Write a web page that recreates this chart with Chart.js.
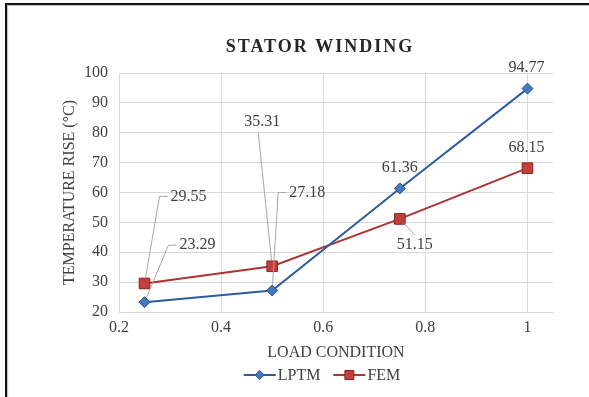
<!DOCTYPE html>
<html>
<head>
<meta charset="utf-8">
<script src="https://cdn.jsdelivr.net/npm/chart.js@4/dist/chart.umd.min.js"></script>
<style>
  html, body { margin: 0; padding: 0; background: #fff; }
  #wrap { position: relative; width: 589px; height: 397px; overflow: hidden; }
  #wrap canvas { position: absolute; left: 0; top: 0; }
  #frame {
    position: absolute; left: 5px; top: 3px; right: -10px; bottom: -10px;
    border-top: 2px solid #111; border-left: 2px solid #111;
    box-shadow: inset 1px 1px 1px rgba(0,0,0,0.25);
    pointer-events: none;
  }
</style>
</head>
<body>
<div id="wrap">
  <canvas id="chart" width="589" height="397"></canvas>
  <div id="frame"></div>
</div>
<script>
// Load condition (per unit) and the temperature rise of the stator winding
const loadCondition = [0.25, 0.5, 0.75, 1];
const lptmRise = [23.29, 27.18, 61.36, 94.77];
const femRise = [29.55, 35.31, 51.15, 68.15];

const seriesNames = ['LPTM', 'FEM'];
const chartTitle = 'STATOR WINDING';
const xAxisTitle = 'LOAD CONDITION';
const yAxisTitle = 'TEMPERATURE RISE (°C)';
const xTickValues = [0.2, 0.4, 0.6, 0.8, 1];
const yTickValues = [20, 30, 40, 50, 60, 70, 80, 90, 100];

// Where each value label sits relative to its point (px), and how its leader line attaches
const lptmLabelPlacement = [
  { dx: 53, dy: -57, leader: 'left' },
  { dx: 35, dy: -98, leader: 'left' },
  { dx: 0, dy: -21 },
  { dx: -1, dy: -21 }
];
const femLabelPlacement = [
  { dx: 44, dy: -87, leader: 'left' },
  { dx: -10, dy: -144, leader: 'bottom' },
  { dx: 15, dy: 26, leader: 'top' },
  { dx: -1, dy: -20 }
];

const SERIF = '"Liberation Serif", "Times New Roman", serif';
const BLUE = { line: '#2F5C9E', fill: '#4479BD', border: '#294F88' };
const RED = { line: '#AA3532', fill: '#C2403B', border: '#8A2323' };

const toPoints = (ys) => loadCondition.map((x, i) => ({ x: x, y: ys[i] }));

// Value labels with Excel-style leader lines
const valueLabels = {
  id: 'valueLabels',
  afterDatasetsDraw(chart) {
    const ctx = chart.ctx;
    const placements = [lptmLabelPlacement, femLabelPlacement];
    ctx.save();
    ctx.font = '16px ' + SERIF;
    ctx.textAlign = 'center';
    ctx.textBaseline = 'middle';
    chart.data.datasets.forEach((ds, di) => {
      const meta = chart.getDatasetMeta(di);
      meta.data.forEach((pt, i) => {
        const p = placements[di][i];
        const text = ds.data[i].y.toFixed(2);
        const cx = pt.x + p.dx, cy = pt.y + p.dy;
        const w = ctx.measureText(text).width;
        if (p.leader) {
          ctx.strokeStyle = '#A6A6A6';
          ctx.lineWidth = 1;
          ctx.beginPath();
          let sx, sy;
          if (p.leader === 'left') {
            sx = cx - w / 2 - 3; sy = cy;
            ctx.moveTo(sx, sy);
            sx -= 8;
            ctx.lineTo(sx, sy);
          } else if (p.leader === 'bottom') {
            sx = cx - 4; sy = cy + 10;
            ctx.moveTo(sx, sy);
          } else {
            sx = cx; sy = cy - 10;
            ctx.moveTo(sx, sy);
          }
          const vx = pt.x - sx, vy = pt.y - sy;
          const len = Math.hypot(vx, vy);
          const stop = 6;
          ctx.lineTo(pt.x - vx / len * stop, pt.y - vy / len * stop);
          ctx.stroke();
        }
        ctx.fillStyle = '#404040';
        ctx.fillText(text, cx, cy);
      });
    });
    ctx.restore();
  }
};

// Chart heading and the legend row underneath the axis title
const headingAndLegend = {
  id: 'headingAndLegend',
  afterDraw(chart) {
    const ctx = chart.ctx;
    ctx.save();
    ctx.fillStyle = '#262626';
    ctx.font = 'bold 18px ' + SERIF;
    ctx.letterSpacing = '2px';
    ctx.textAlign = 'center';
    ctx.textBaseline = 'middle';
    ctx.fillText(chartTitle, 320, 47);
    ctx.letterSpacing = '0px';

    ctx.font = '16px ' + SERIF;
    ctx.textAlign = 'left';
    const lineLen = 32, gapText = 2, gapItem = 13;
    const widths = chart.data.datasets.map(ds => ctx.measureText(ds.label).width);
    const total = widths.reduce((a, w) => a + lineLen + gapText + w, 0) + gapItem * (widths.length - 1);
    let x = 322 - total / 2;
    const y = 375;
    chart.data.datasets.forEach((ds, i) => {
      ctx.strokeStyle = ds.borderColor;
      ctx.lineWidth = 2;
      ctx.beginPath();
      ctx.moveTo(x, y);
      ctx.lineTo(x + lineLen, y);
      ctx.stroke();
      ctx.fillStyle = ds.pointBackgroundColor;
      ctx.strokeStyle = ds.pointBorderColor;
      ctx.lineWidth = ds.pointBorderWidth;
      ctx.beginPath();
      const mx = x + lineLen / 2;
      if (ds.pointStyle === 'rect') {
        const s = 4.5;
        ctx.rect(mx - s, y - s, 2 * s, 2 * s);
      } else {
        const r = 4.5;
        ctx.moveTo(mx - r, y); ctx.lineTo(mx, y - r); ctx.lineTo(mx + r, y); ctx.lineTo(mx, y + r); ctx.closePath();
      }
      ctx.fill();
      ctx.stroke();
      ctx.fillStyle = '#404040';
      ctx.textBaseline = 'middle';
      ctx.fillText(ds.label, x + lineLen + gapText, y + 1);
      x += lineLen + gapText + widths[i] + gapItem;
    });
    ctx.restore();
  }
};

const tickFont = { family: SERIF, size: 16 };
const titleFont = { family: SERIF, size: 16 };

new Chart(document.getElementById('chart'), {
  type: 'line',
  data: {
    datasets: [
      {
        label: seriesNames[0],
        data: toPoints(lptmRise),
        borderColor: BLUE.line,
        borderWidth: 2,
        pointStyle: 'rectRot',
        pointRadius: 5.5,
        pointBackgroundColor: BLUE.fill,
        pointBorderColor: BLUE.border,
        pointBorderWidth: 1,
        tension: 0
      },
      {
        label: seriesNames[1],
        data: toPoints(femRise),
        borderColor: RED.line,
        borderWidth: 2,
        pointStyle: 'rect',
        pointRadius: 7.5,
        pointBackgroundColor: RED.fill,
        pointBorderColor: RED.border,
        pointBorderWidth: 1,
        tension: 0
      }
    ]
  },
  options: {
    responsive: false,
    animation: false,
    events: [],
    layout: { padding: { top: 73, right: 36, bottom: 25, left: 0 } },
    plugins: {
      legend: { display: false },
      title: { display: false },
      tooltip: { enabled: false }
    },
    scales: {
      x: {
        type: 'linear',
        min: 0.2,
        max: 1.05,
        afterBuildTicks(scale) { scale.ticks = xTickValues.map(v => ({ value: v })); },
        afterFit(scale) { scale.height = 60; },
        ticks: {
          font: tickFont,
          color: '#404040',
          padding: 6,
          callback: (v) => String(v)
        },
        grid: { color: '#D9D9D9', lineWidth: 1, drawTicks: false },
        border: { display: true, color: '#D9D9D9' },
        title: {
          display: true,
          text: xAxisTitle,
          font: titleFont,
          color: '#404040',
          padding: { top: 0, bottom: 10 }
        }
      },
      y: {
        min: 20,
        max: 100,
        afterBuildTicks(scale) { scale.ticks = yTickValues.map(v => ({ value: v })); },
        afterFit(scale) { scale.width = 119; },
        ticks: {
          font: tickFont,
          color: '#404040',
          padding: 11
        },
        grid: { color: '#D9D9D9', lineWidth: 1, drawTicks: false },
        border: { display: true, color: '#D9D9D9' },
        title: {
          display: true,
          text: yAxisTitle,
          font: titleFont,
          color: '#404040',
          padding: { top: 60, bottom: 0 }
        }
      }
    }
  },
  plugins: [valueLabels, headingAndLegend]
});
</script>
</body>
</html>
